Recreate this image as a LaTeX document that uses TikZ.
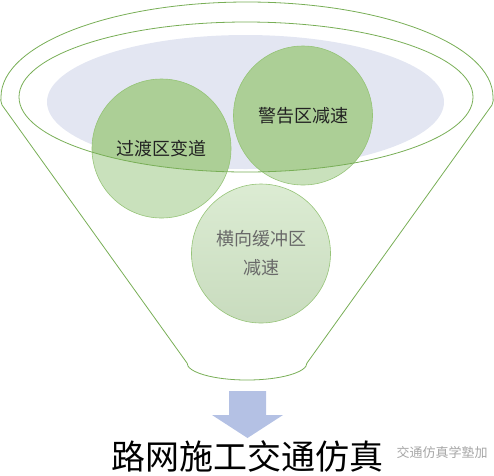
\documentclass[tikz,border=0pt]{standalone}
\usepackage{fontspec}
\newfontfamily\cjk{Noto Sans CJK SC}
\usetikzlibrary{backgrounds}

\definecolor{funnelgreen}{RGB}{120,174,86}
\definecolor{bubbleline}{RGB}{150,196,120}
\definecolor{lavender}{RGB}{227,230,242}
\definecolor{darkbubble}{RGB}{172,207,150}
\definecolor{lightbubble}{RGB}{201,225,188}
\definecolor{palebubble}{RGB}{211,231,200}
\definecolor{arrowblue}{RGB}{180,193,228}
\definecolor{inktext}{RGB}{34,34,34}
\definecolor{greytext}{RGB}{105,105,105}

\begin{document}
\begin{tikzpicture}[
        x=1pt, y=-1pt,
        font=\cjk,
        % Styles
        rim/.style={draw=funnelgreen, line width=0.8pt},
        bubble/.style={circle, draw=bubbleline, line width=0.6pt, minimum size=139pt, inner sep=0pt, align=center, text=inktext, font=\cjk\fontsize{18}{29}\selectfont},
        result/.style={font=\cjk\fontsize{34}{34}\selectfont, text=black, anchor=base},
        watermark/.style={font=\cjk\fontsize{13}{13}\selectfont, text=gray!70, anchor=west}
    ]
    \useasboundingbox (0,0) rectangle (494,475);

    % ================= BUBBLES =================
    \node[bubble] (guodu) at (161.5,148.5) {过渡区变道};
    \node[bubble] (jinggao) at (303,115.5) {警告区减速};
    \node[bubble, text=greytext] (hengxiang) at (261,253.5) {横向缓冲区\\减速};

    % Fills go behind the bubble outlines and texts
    \begin{scope}[on background layer]
        \fill[lavender] (245.5,102) ellipse [x radius=198.5pt, y radius=67pt];
        \fill[lightbubble] (guodu.center) circle (69.5pt);
        \fill[lightbubble] (jinggao.center) circle (69.5pt);
        \shade[top color=palebubble!80!white, bottom color=palebubble!95!black] (hengxiang.center) circle (69.5pt);
        % darker where the bubbles sit inside the rim
        \begin{scope}
            \clip (246,97) ellipse [x radius=227pt, y radius=75pt];
            \fill[darkbubble] (guodu.center) circle (69.5pt);
            \fill[darkbubble] (jinggao.center) circle (69.5pt);
        \end{scope}
    \end{scope}

    % ================= FUNNEL =================
    \draw[rim] (187,363) -- (2,105) .. controls (0.6,102) and (0.6,99) .. (1,97)
        arc[start angle=180, end angle=0, x radius=246pt, y radius=95pt]
        .. controls (493.4,99) and (493.4,102) .. (492,105) -- (307,363)
        arc[start angle=0, end angle=-180, x radius=60pt, y radius=17pt] -- cycle;
    \draw[rim] (246,97) ellipse [x radius=227pt, y radius=75pt];

    % ================= RESULT =================
    \fill[arrowblue] (229,391) -- (266,391) -- (266,415) -- (283,415) -- (247.5,438)
        -- (212,415) -- (229,415) -- cycle;
    \node[result] (wangluo) at (247,469) {路网施工交通仿真};
    \node[watermark] (shuiyin) at (393,452) {交通仿真学塾加};

\end{tikzpicture}
\end{document}
